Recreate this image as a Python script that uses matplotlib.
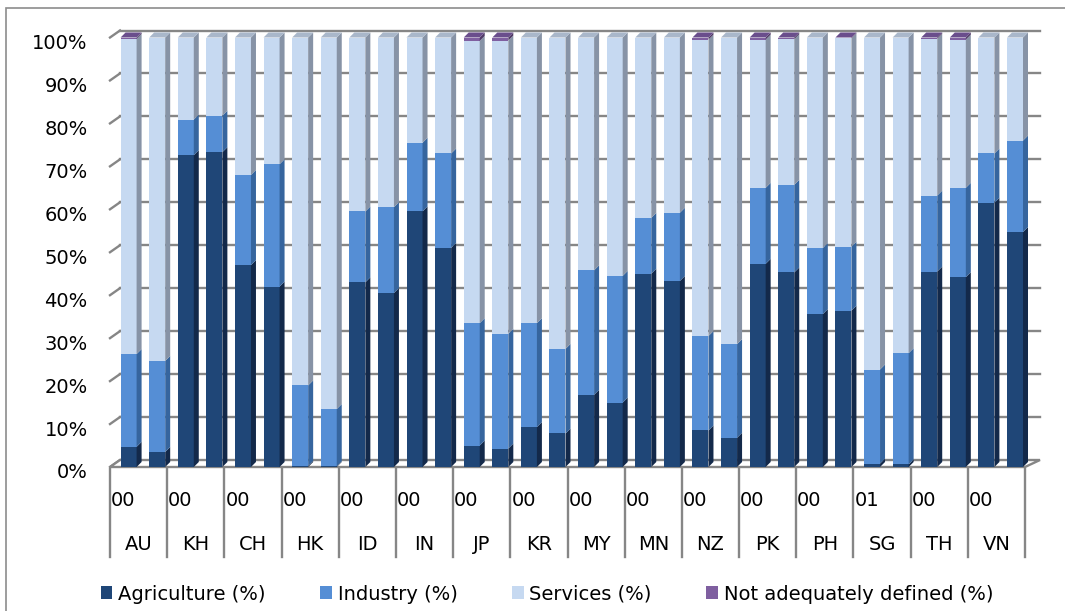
import matplotlib
matplotlib.use("Agg")
import matplotlib.pyplot as plt
import matplotlib.transforms as mtransforms
from matplotlib.patches import Polygon, Rectangle
import numpy as np

plt.rcParams['font.family'] = ['DejaVu Sans']

countries = ["AU", "KH", "CH", "HK", "ID", "IN", "JP", "KR", "MY", "MN", "NZ", "PK", "PH", "SG", "TH", "VN"]
year_labels = ["00", "00", "00", "00", "00", "00", "00", "00", "00", "00", "00", "00", "00", "01", "00", "00"]
series_names = ["Agriculture (%)", "Industry (%)", "Services (%)", "Not adequately defined (%)"]

agriculture = [4.7, 3.5, 72.6, 73.3, 47.0, 42.0, 0.3, 0.2, 43.0, 40.5, 59.5, 51.0,
               5.0, 4.3, 9.3, 7.8, 16.8, 15.0, 45.0, 43.3, 8.5, 6.8, 47.3, 45.3,
               35.6, 36.4, 0.8, 0.6, 45.5, 44.2, 61.5, 54.7]
industry = [21.6, 21.2, 8.3, 8.5, 21.0, 28.5, 18.7, 13.3, 16.5, 20.0, 16.0, 22.0,
            28.5, 26.7, 24.2, 19.7, 29.0, 29.5, 13.0, 15.9, 22.0, 21.8, 17.7, 20.4,
            15.4, 14.9, 21.9, 25.9, 17.7, 20.8, 11.5, 21.3]
not_defined = [0.3, 0.0, 0.0, 0.0, 0.0, 0.0, 0.0, 0.0, 0.0, 0.0, 0.0, 0.0,
               0.8, 0.7, 0.0, 0.0, 0.0, 0.0, 0.0, 0.0, 0.5, 0.0, 0.5, 0.4,
               0.0, 0.2, 0.0, 0.0, 0.3, 0.5, 0.0, 0.0]
services = [100 - a - i - n for a, i, n in zip(agriculture, industry, not_defined)]

front_colors = ["#1F4677", "#558ED5", "#C6D9F1", "#7F5FA0"]
side_colors = ["#13294A", "#36659E", "#8793A6", "#4F3A66"]
top_colors = ["#2C5A92", "#7AA7DF", "#A9B7CA", "#6A4E8C"]

W, H = 1065, 611
FS = 14
fig = plt.figure(figsize=(W / 100, H / 100), dpi=100)
fig.patches.append(Rectangle((6 / W, -0.05), 1.2, 1.05 - 8 / H, transform=fig.transFigure,
                             fill=False, edgecolor="#8C8C8C", lw=1.2))

ax_left, ax_right, ax_bottom, ax_top = 110, 1025, 467, 37.5
ax = fig.add_axes([ax_left / W, 1 - ax_bottom / H, (ax_right - ax_left) / W, (ax_bottom - ax_top) / H])
n = len(agriculture)
ax.set_xlim(-0.5, n - 0.5)
ax.set_ylim(0, 100)
for s in ax.spines.values():
    s.set_visible(False)
ax.set_xticks([])
ax.set_yticks(np.arange(0, 101, 10))
ax.set_yticklabels([f"{v}%" for v in range(0, 101, 10)], fontsize=FS)
ax.tick_params(axis='y', length=0, pad=16)
shift = mtransforms.ScaledTranslation(0, -4 / 100, fig.dpi_scale_trans)
for lab in ax.get_yticklabels():
    lab.set_transform(lab.get_transform() + shift)

px_x = n / (ax_right - ax_left)         # data units per pixel (x)
px_y = 100 / (ax_bottom - ax_top)       # data units per pixel (y)

# back wall gridlines with slanted left edge
wall_dx, wall_dy = 10 * px_x, 7 * px_y
grid_col = "#868686"
for v in range(0, 101, 10):
    ax.plot([-0.5, -0.5 + wall_dx], [v, v + wall_dy], color=grid_col, lw=1.7, clip_on=False, zorder=1)
    if v > 0:
        ax.plot([-0.5 + wall_dx, n - 0.5 + 15 * px_x], [v + wall_dy, v + wall_dy], color=grid_col,
                lw=1.7, clip_on=False, zorder=1)
# floor
ax.add_patch(Polygon([(-0.5, 0), (n - 0.5, 0), (n - 0.5 + 15 * px_x, wall_dy), (-0.5 + wall_dx, wall_dy)],
                     closed=True, facecolor="white", edgecolor=grid_col, lw=1.7, clip_on=False, zorder=1))

# bars with pseudo-3D faces
xs = np.arange(n)
bw = 0.56
xoff = 0.15
dx, dy = 5 * px_x, 5 * px_y
stack = [agriculture, industry, services, not_defined]
bottoms = np.zeros(n)
for k, vals in enumerate(stack):
    vals = np.array(vals)
    ax.bar(xs + xoff, vals, bottom=bottoms, width=bw, color=front_colors[k], label=series_names[k],
           zorder=3, linewidth=0)
    for i in range(n):
        b, t = bottoms[i], bottoms[i] + vals[i]
        if vals[i] <= 0:
            continue
        xr = xs[i] + xoff + bw / 2
        ax.add_patch(Polygon([(xr, b), (xr + dx, b + dy), (xr + dx, t + dy), (xr, t)], closed=True,
                             facecolor=side_colors[k], edgecolor="none", zorder=3, clip_on=False))
    bottoms = bottoms + vals
# top faces
for i in range(n):
    top_k = max(k for k in range(4) if stack[k][i] > 0)
    t = bottoms[i]
    xl = xs[i] + xoff - bw / 2
    xr = xs[i] + xoff + bw / 2
    ax.add_patch(Polygon([(xl, t), (xr, t), (xr + dx, t + dy), (xl + dx, t + dy)], closed=True,
                         facecolor=top_colors[top_k], edgecolor="none", zorder=3.5, clip_on=False))

# category axis (two-level)
trans = mtransforms.blended_transform_factory(ax.transData, fig.transFigure)
for g in range(len(countries) + 1):
    xb = 2 * g - 0.5
    ax.plot([xb, xb], [1 - 469 / H, 1 - 557 / H], transform=trans, color=grid_col, lw=1.7, clip_on=False)
for g, (c, yl) in enumerate(zip(countries, year_labels)):
    xb = 2 * g - 0.5
    ax.text(xb + 1 * px_x, 1 - 500 / H, yl, transform=trans, ha='left', va='center', fontsize=FS)
    ax.text(xb + 1.0, 1 - 545 / H, c, transform=trans, ha='center', va='center', fontsize=FS)

handles, labels = ax.get_legend_handles_labels()
fig.legend(handles, labels, loc='center', bbox_to_anchor=(547 / W, 1 - 594 / H), ncol=4, frameon=False,
           fontsize=FS, handlelength=0.6, handleheight=0.6, handletextpad=0.3, columnspacing=2.8)

fig.savefig("out.png", dpi=100)
